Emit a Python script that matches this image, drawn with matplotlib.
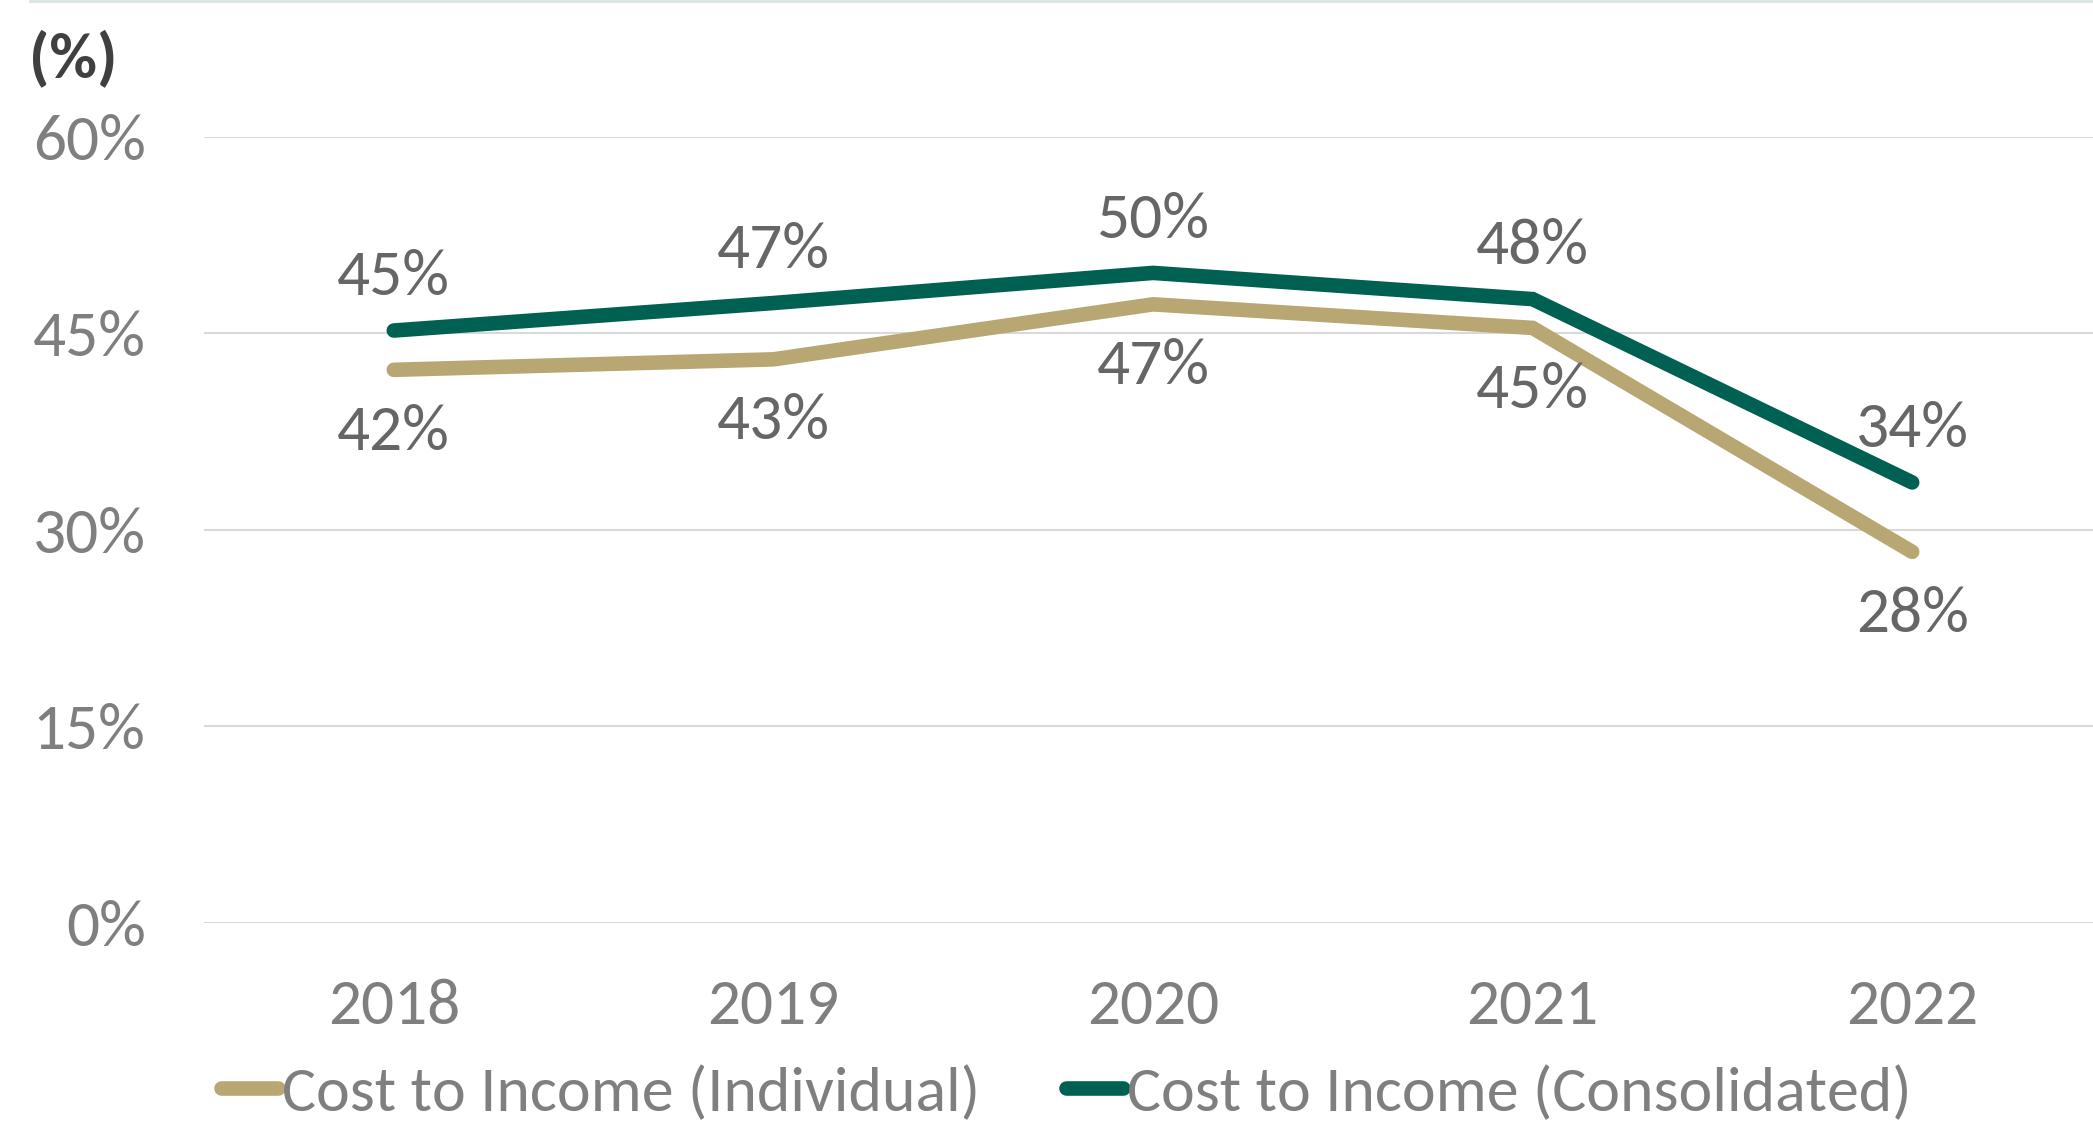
import matplotlib
matplotlib.use("Agg")
import matplotlib.pyplot as plt
from matplotlib.lines import Line2D

plt.rcParams['font.family'] = ['Carlito', 'Liberation Sans Narrow', 'Lato', 'DejaVu Sans']

years = ["2018", "2019", "2020", "2021", "2022"]
individual = [42.2, 43.0, 47.2, 45.4, 28.3]
consolidated = [45.2, 47.3, 49.6, 47.6, 33.6]
y_ticks = [0, 15, 30, 45, 60]

col_ind = "#B8A772"
col_con = "#006152"
col_tick = "#7F7F7F"
col_label = "#666666"

W, H = 2093, 1121
fig = plt.figure(figsize=(W / 100, H / 100), dpi=100)
ax = fig.add_axes([204 / W, (H - 922.5) / H, (2102 - 204) / W, (922.5 - 136.7) / H])

x = list(range(len(years)))
lw = 10.5
ax.plot(x, individual, color=col_ind, lw=lw, solid_capstyle='round', solid_joinstyle='miter', zorder=3)
ax.plot(x, consolidated, color=col_con, lw=lw, solid_capstyle='round', solid_joinstyle='miter', zorder=4)

fs = 47
for xi, v in zip(x, consolidated):
    ax.annotate(f"{v:.0f}%", (xi, v), xytext=(0, 38), textcoords='offset points',
                ha='center', va='center', fontsize=fs, color=col_label)
for xi, v in zip(x, individual):
    ax.annotate(f"{v:.0f}%", (xi, v), xytext=(0, -45), textcoords='offset points',
                ha='center', va='center', fontsize=fs, color=col_label)

ax.set_xlim(-0.5, 4.5)
ax.set_ylim(0, 60)
ax.set_yticks(y_ticks)
ax.set_yticklabels([f"{t}%" for t in y_ticks])
ax.set_xticks(x)
ax.set_xticklabels(years)
ax.tick_params(axis='both', length=0, labelsize=fs, labelcolor=col_tick)
ax.tick_params(axis='y', pad=42)
ax.tick_params(axis='x', pad=40)
ax.grid(axis='y', color='#D9D9D9', lw=1.5, zorder=0)
ax.set_axisbelow(True)
for s in ax.spines.values():
    s.set_visible(False)

fig.text(29 / W, 1 - 60 / H, "(%)", fontsize=47, fontweight='bold', color='#404040',
         ha='left', va='center')

# thin rule along the top edge
fig.add_artist(Line2D([30 / W, 1], [0.999, 0.999], transform=fig.transFigure,
                      color='#D8E6E2', lw=2))

handles = [Line2D([], [], color=col_ind, lw=lw, solid_capstyle='round'),
           Line2D([], [], color=col_con, lw=lw, solid_capstyle='round')]
fig.legend(handles, ["Cost to Income (Individual)", "Cost to Income (Consolidated)"],
           loc='center', bbox_to_anchor=(1066 / W, 1 - 1093 / H), ncol=2, frameon=False,
           fontsize=46, labelcolor=col_tick, handlelength=0.9, handletextpad=0.05,
           columnspacing=1.35, borderpad=0, borderaxespad=0)

fig.savefig("out.png", dpi=100)
